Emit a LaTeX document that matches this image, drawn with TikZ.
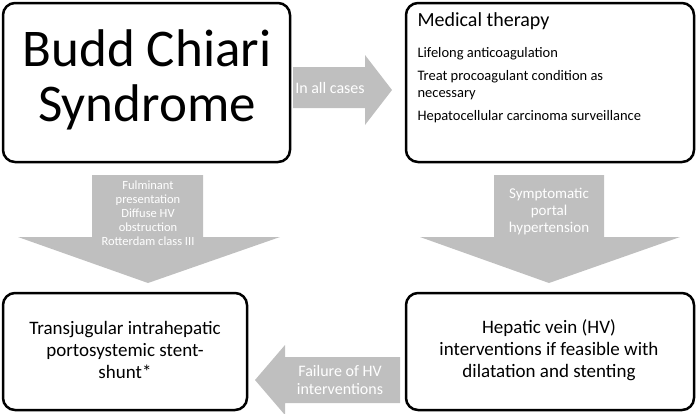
\documentclass[tikz,border=0pt]{standalone}
\usepackage{fontspec}
\setmainfont{Carlito}
\usetikzlibrary{shapes.arrows}
\definecolor{arrowgray}{RGB}{191,191,191}
\tikzset{box/.style={draw,line width=2.5pt,rounded corners=12pt},
  gray arrow/.style={fill=arrowgray,draw=none},
  arrow text/.style={text=white,align=center,font=\fontsize{12.5}{14}\selectfont}}
\begin{document}
\begin{tikzpicture}[x=1pt,y=-1pt]
\useasboundingbox (0,0) rectangle (697,413);
% boxes
\draw[box] (3,3) rectangle (290,162);
\draw[box] (406,3) rectangle (694,162);
\draw[box] (3,293) rectangle (247,410);
\draw[box] (406,293) rectangle (694,410);
\node[font=\fontsize{53}{55}\selectfont,align=center] (bcs) at (147,80) {Budd Chiari\\Syndrome};
\node[anchor=north west,font=\fontsize{20}{22}\selectfont] (med) at (414,9) {Medical therapy};
\node[anchor=north west,align=left,font=\fontsize{14.5}{17}\selectfont] (medlist) at (414,44)
  {Lifelong anticoagulation\\[6pt]Treat procoagulant condition as\\necessary\\[6pt]Hepatocellular carcinoma surveillance};
\node[align=center,font=\fontsize{19}{22}\selectfont] (tips) at (125,350) {Transjugular intrahepatic\\portosystemic stent-\\shunt*};
\node[align=center,font=\fontsize{19}{22}\selectfont] (hv) at (549,350) {Hepatic vein (HV)\\interventions if feasible with\\dilatation and stenting};
% arrows
\fill[gray arrow] (293,67) -- (365,67) -- (365,55) -- (392,90) -- (365,125) -- (365,108) -- (293,108) -- cycle;
\node[arrow text,font=\fontsize{16}{18}\selectfont] (all) at (330,88) {In all cases};
\fill[gray arrow] (92,175) -- (203,175) -- (203,237) -- (280,237) -- (148,283) -- (18,237) -- (92,237) -- cycle;
\node[arrow text] (fulm) at (148,213) {Fulminant\\presentation\\Diffuse HV\\obstruction\\Rotterdam class III};
\fill[gray arrow] (494,175) -- (604,175) -- (604,237) -- (680,237) -- (549,283) -- (420,237) -- (494,237) -- cycle;
\node[arrow text,font=\fontsize{15}{17}\selectfont] (sym) at (549,212) {Symptomatic\\portal\\hypertension};
\fill[gray arrow] (400,357) -- (285,357) -- (285,345) -- (255,380) -- (285,415) -- (285,403) -- (400,403) -- cycle;
\node[arrow text,font=\fontsize{16}{18}\selectfont] (fail) at (340,380) {Failure of HV\\interventions};
\end{tikzpicture}
\end{document}
